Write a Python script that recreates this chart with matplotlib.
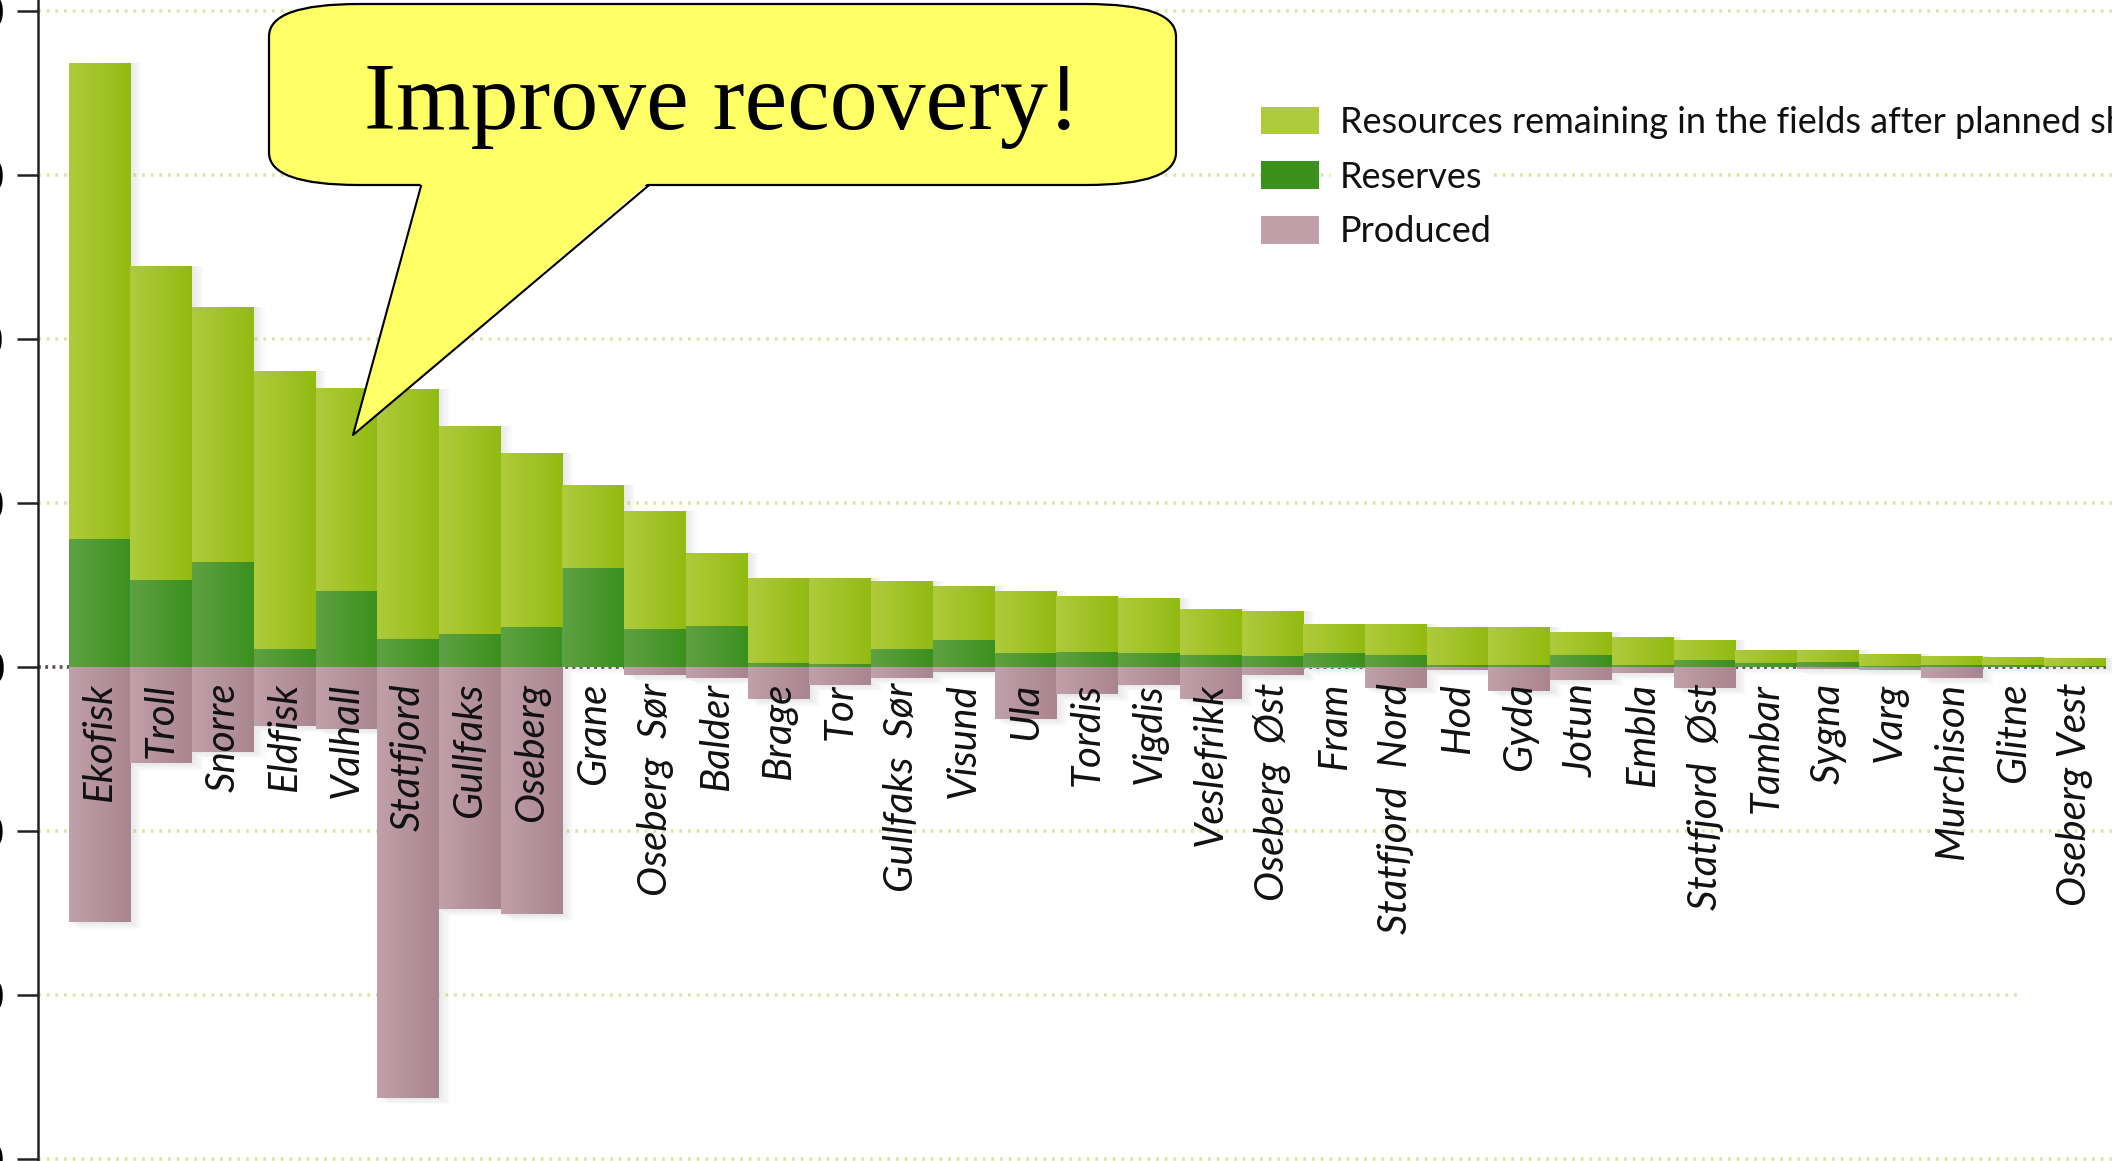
import numpy as np
import matplotlib
matplotlib.use("Agg")
import matplotlib.pyplot as plt
from matplotlib.patches import Patch, FancyBboxPatch, Polygon
from matplotlib.colors import LinearSegmentedColormap

# field names, left to right
fields = ["Ekofisk", "Troll", "Snorre", "Eldfisk", "Valhall", "Statfjord", "Gullfaks",
          "Oseberg", "Grane", "Oseberg  Sør", "Balder", "Brage", "Tor", "Gullfaks  Sør",
          "Visund", "Ula", "Tordis", "Vigdis", "Veslefrikk", "Oseberg  Øst", "Fram",
          "Statfjord  Nord", "Hod", "Gyda", "Jotun", "Embla", "Statfjord  Øst", "Tambar",
          "Sygna", "Varg", "Murchison", "Glitne", "Oseberg Vest"]

# values (million Sm3 o.e., gridlines every 200)
reserves = [156, 106, 128, 22, 92, 34, 40, 48, 120, 46, 50, 4, 3, 22, 32, 16, 18, 16,
            14, 13, 16, 14, 2, 2, 14, 2, 8, 4, 5, 1, 2, 2, 1]
remaining = [580, 382, 310, 338, 248, 304, 254, 212, 102, 144, 88, 104, 105, 82, 66, 76,
             68, 68, 56, 55, 36, 38, 46, 46, 28, 34, 24, 16, 15, 14, 11, 10, 9]
produced = [312, 118, 104, 72, 76, 526, 296, 302, 0, 10, 14, 40, 22, 14, 6, 64, 34, 22,
            40, 10, 2, 26, 4, 30, 16, 8, 26, 0, 3, 4, 14, 0, 1]

y_ticks = [-600, -400, -200, 0, 200, 400, 600, 800]
legend_labels = ["Resources remaining in the fields after planned shutdown",
                 "Reserves", "Produced"]
callout_text = "Improve recovery!"

light_green = ("#aecb3c", "#93ba12")
dark_green = ("#5fa143", "#3b911d")
pink = ("#c0a0a9", "#a9858f")

W, H = 2112, 1161
fig = plt.figure(figsize=(W / 100, H / 100), dpi=100)
ax = fig.add_axes([37.7 / W, 0, 1 - 37.7 / W, 1])

x = np.arange(len(fields))
res = np.array(reserves)
rem = np.array(remaining)
prod = -np.array(produced)


def shade(bars, cols, z):
    cmap = LinearSegmentedColormap.from_list("g", list(cols))
    grad = np.linspace(0, 1, 64).reshape(1, -1)
    for b in bars:
        h = b.get_height()
        if h == 0:
            continue
        x0 = b.get_x()
        y0 = b.get_y()
        im = ax.imshow(grad, cmap=cmap, aspect="auto", interpolation="bilinear",
                       extent=(x0, x0 + b.get_width(), y0, y0 + h), zorder=z)
        im.set_clip_path(b)


# soft shadow behind the bars
for k in range(1, 6):
    off = k * 0.035
    ax.bar(x + off, rem + res, width=1.0, bottom=0, color="#888888", alpha=0.035,
           zorder=2, linewidth=0)
    ax.bar(x + off, prod - k * 1.6, width=1.0, color="#888888", alpha=0.035,
           zorder=2, linewidth=0)

b_res = ax.bar(x, res, width=1.0, color=dark_green[1], linewidth=0, zorder=3)
b_rem = ax.bar(x, rem, width=1.0, bottom=res, color=light_green[1], linewidth=0, zorder=3)
b_prod = ax.bar(x, prod, width=1.0, color=pink[1], linewidth=0, zorder=3)
shade(b_res, dark_green, 4)
shade(b_rem, light_green, 4)
shade(b_prod, pink, 4)

# dotted gridlines
for t in y_ticks:
    if t == 0:
        continue
    xe = 31.1 if t == -400 else 32.6
    ax.plot([-1.0, xe], [t, t], color="#dfe7a6", lw=2.6, ls=(0, (0.8, 1.6)), zorder=1)
ax.plot([-1.0, 32.5], [0, 0], color="#5a5050", lw=2.6, ls=(0, (0.8, 1.2)), zorder=2.5)

# field names under the zero line
for i, name in enumerate(fields):
    ax.text(i, -20, name, rotation=90, ha="center", va="top", fontsize=29,
            family="Lato", style="italic", color="#111111", zorder=5)

ax.set_xlim(-1.0, 32.6)
ax.set_ylim(-603, 813)
ax.set_yticks(y_ticks)
ax.set_yticklabels([str(t) for t in y_ticks], fontsize=30)
ax.tick_params(axis="y", direction="out", length=15, width=1.8, pad=8, color="#222222")
ax.set_xticks([])
for s in ["top", "right", "bottom"]:
    ax.spines[s].set_visible(False)
ax.spines["left"].set_linewidth(1.8)
ax.spines["left"].set_color("#222222")

handles = [Patch(facecolor=light_green[0], edgecolor="none"),
           Patch(facecolor=dark_green[1], edgecolor="none"),
           Patch(facecolor=pink[0], edgecolor="none")]
leg = ax.legend(handles, legend_labels, loc="upper left",
                bbox_to_anchor=(1261 / W, 1 - 106 / H), bbox_transform=fig.transFigure,
                frameon=False, handlelength=1.6, handleheight=0.8, handletextpad=0.58,
                labelspacing=0.6, borderpad=0, borderaxespad=0,
                prop={"family": "Lato", "size": 26})
leg.set_zorder(6)
for t in leg.get_texts():
    t.set_color("#111111")
    t.set_bbox(dict(facecolor="white", edgecolor="none", pad=6))

# callout bubble in pixel coordinates
ov = fig.add_axes([0, 0, 1, 1], zorder=10)
ov.set_xlim(0, W)
ov.set_ylim(H, 0)
ov.axis("off")
box = FancyBboxPatch((269, 4), 907, 181, boxstyle="round,pad=0,rounding_size=90",
                     mutation_aspect=0.36, facecolor="#ffff66", edgecolor="black", lw=1.6)
ov.add_patch(box)
tail = [(421, 183), (648, 183), (353, 435)]
ov.add_patch(Polygon(tail, closed=True, facecolor="#ffff66", edgecolor="none"))
ov.plot([421, 353, 648], [186, 435, 186], color="black", lw=1.5)
ov.text(722, 106, callout_text, ha="center", va="center", fontsize=69,
        family="Liberation Serif")

fig.savefig("out.png", dpi=100)
